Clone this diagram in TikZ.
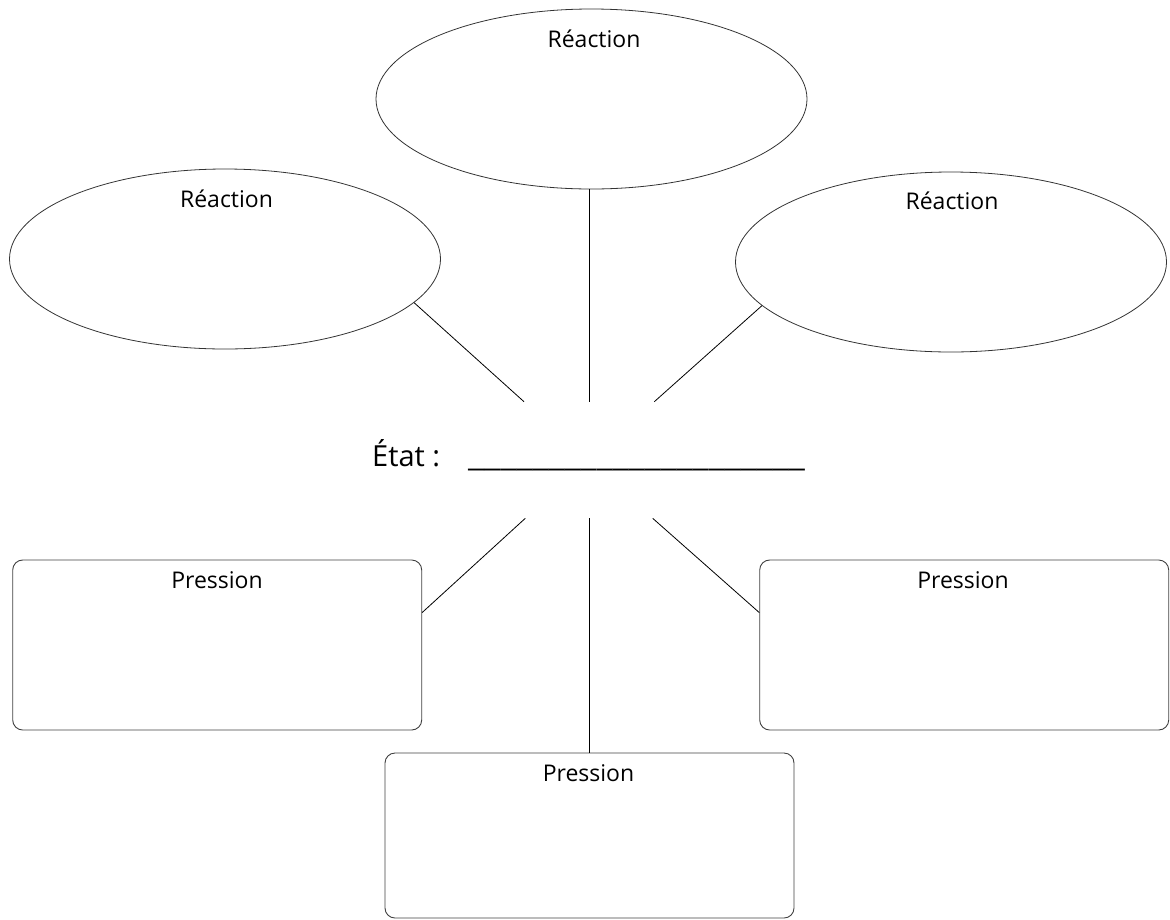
\documentclass[tikz,border=0pt]{standalone}
\usepackage{graphicx}
\usepackage{fontspec}
\setmainfont{Open Sans}
\usetikzlibrary{shapes.geometric}
\begin{document}
\begin{tikzpicture}[x=1pt,y=-1pt,
  bubble/.style={draw=black!80, line width=0.8pt, ellipse, minimum width=431pt, minimum height=180pt, inner sep=0pt},
  panel/.style={draw=black!75, line width=0.9pt, rectangle, rounded corners=10pt, minimum width=409pt, minimum height=170pt, inner sep=0pt},
  boxtitle/.style={anchor=base, font=\fontsize{23}{27}\selectfont, inner sep=0pt},
  link/.style={draw=black, line width=0.8pt}]
\path[use as bounding box] (0,0) rectangle (1170,919);
% shapes
\node[bubble] (ellT) at (591.5,99) {};
\node[bubble] (ellL) at (225,259) {};
\node[bubble] (ellR) at (951,262) {};
\node[panel] (recL) at (217.2,645) {};
\node[panel] (recR) at (964.2,645) {};
\node[panel, minimum height=165pt] (recB) at (589.5,835.5) {};
% titles
\node[boxtitle] (tT) at (594,47) {Réaction};
\node[boxtitle] (tL) at (226.5,207) {Réaction};
\node[boxtitle] (tR) at (952,209) {Réaction};
\node[boxtitle] (pL) at (217,588) {Pression};
\node[boxtitle] (pR) at (963,588) {Pression};
\node[boxtitle] (pB) at (588.5,781) {Pression};
% centre text
\node[anchor=base west, inner sep=0pt, font=\fontsize{29}{34}\selectfont] (etat) at (372,466)
  {État :\hspace{28pt}\resizebox*{337pt}{\totalheight}{\_\_\_\_\_\_\_\_\_\_\_\_\_\_\_\_\_\_\_\_\_}};
% free ends
\coordinate (uL) at (524,401.7);
\coordinate (uM) at (589.3,401.7);
\coordinate (uR) at (654.3,401.7);
\coordinate (dL) at (525.3,518.3);
\coordinate (dM) at (589.3,518.3);
\coordinate (dR) at (652.7,518.3);
% connectors
\draw[link] (ellL.-13.07) -- (uL);
\draw[link] (ellT.south -| uM) -- (uM);
\draw[link] (ellR.-167.3) -- (uR);
\draw[link] (dL) -- (recL.9.52);
\draw[link] (dM) -- (recB.north -| dM);
\draw[link] (dR) -- (recR.171.2);
\end{tikzpicture}
\end{document}
